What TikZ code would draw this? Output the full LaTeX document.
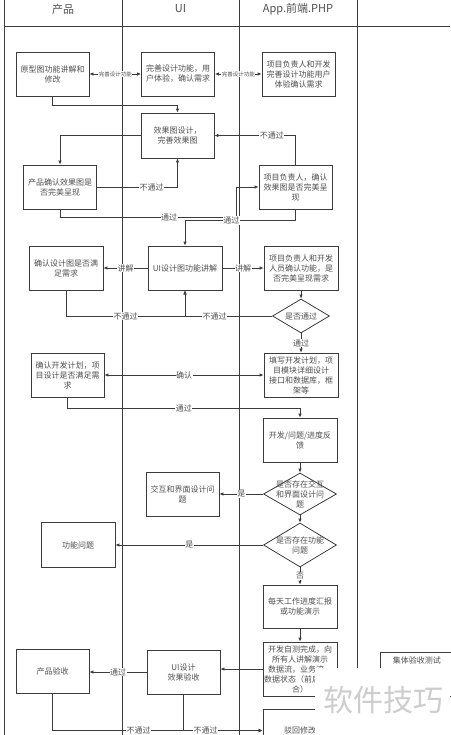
\documentclass[tikz,border=0pt]{standalone}
\usepackage{fontspec}
\usepackage{tikz}
\usetikzlibrary{arrows.meta,shapes.geometric}
\newfontfamily\cjk{Noto Sans CJK SC}
\definecolor{linegray}{HTML}{3C3C3C}
\definecolor{textgray}{HTML}{505050}
\definecolor{markgray}{HTML}{CDCDCD}

\begin{document}
\begin{tikzpicture}[x=1pt,y=-1pt,>={Latex[length=4pt,width=3.5pt]},
  lane/.style={linegray,line width=0.8pt},
  box/.style={draw=linegray,line width=0.8pt,fill=white,minimum width=73pt,minimum height=44pt,inner sep=1pt,align=center,text=textgray,font=\cjk\fontsize{8}{10}\selectfont},
  dia/.style={diamond,draw=linegray,line width=0.8pt,fill=white,inner sep=0pt},
  dtext/.style={align=center,text=textgray,font=\cjk\fontsize{8}{10}\selectfont},
  conn/.style={linegray,line width=0.8pt},
  lbl/.style={fill=white,inner sep=0.5pt,text=textgray,font=\cjk\fontsize{8}{9}\selectfont},
  tinylbl/.style={fill=white,inner sep=0.3pt,text=textgray,font=\cjk\fontsize{5.5}{6}\selectfont},
  head/.style={text=textgray,font=\cjk\fontsize{11}{13}\selectfont}]
\useasboundingbox (0,0) rectangle (450,735);
\fill[white] (0,0) rectangle (450,735);
\draw[lane] (4,0) -- (4,735);
\draw[lane] (122,0) -- (122,735);
\draw[lane] (239,0) -- (239,735);
\draw[lane] (357,0) -- (357,735);
\draw[lane] (4,26) -- (450,26);
\node[head] (hcp) at (63,9) {产品};
\node[head] (hui) at (180.5,9) {UI};
\node[head] (happ) at (298,9) {App.前端.PHP};

\node[box] (yuanxing) at (52.5,74) {原型图功能讲解和\\修改};
\node[box] (wanshan) at (178,74) {完善设计功能，用\\户体验，确认需求};
\node[box] (xmqueren) at (298.5,74) {项目负责人和开发\\完善设计功能用户\\体验确认需求};
\node[box,minimum height=45pt] (xiaoguo) at (177.5,135.5) {效果图设计，\\完善效果图};
\node[box] (cpqueren) at (60,187) {产品确认效果图是\\否完美呈现};
\node[box] (xmxiaoguo) at (295.5,187) {项目负责人，确认\\效果图是否完美呈\\现};
\node[box,minimum width=74pt] (uijiangjie) at (185,268) {UI设计图功能讲解};
\node[box,minimum width=74pt] (sjqueren) at (66,268) {确认设计图是否满\\足需求};
\node[box,minimum width=74pt] (kfqueren) at (301,268) {项目负责人和开发\\人员确认功能，是\\否完美呈现需求};
\node[dia,minimum width=57pt,minimum height=34pt,label={[dtext]center:是否通过}] (tongguo) at (301,316) {};
\node[box,minimum width=74pt] (jihua) at (301,375) {填写开发计划，项\\目模块详细设计\\接口和数据库，框\\架等};
\node[box] (jhqueren) at (67.5,375) {确认开发计划，项\\目设计是否满足需\\求};
\node[box,minimum width=74pt] (fankui) at (300,440) {开发/问题/进度反\\馈};
\node[dia,minimum width=73pt,minimum height=42pt,label={[dtext]center:{是否存在交互\\和界面设计问\\题}}] (jiaohu) at (300,494) {};
\node[box] (jmwenti) at (182.5,494) {交互和界面设计问\\题};
\node[dia,minimum width=73pt,minimum height=44pt,label={[dtext]center:{是否存在功能\\问题}}] (gongneng) at (300,545) {};
\node[box,minimum width=74pt,minimum height=45pt] (gnwenti) at (78,545) {功能问题};
\node[box,minimum width=74pt,minimum height=43pt] (huibao) at (300,606.5) {每天工作进度汇报\\或功能演示};
\node[box,minimum width=74pt,minimum height=54pt] (zice) at (300,669) {开发自测完成，向\\所有人讲解演示\\数据流，业务流，\\数据状态（前后端配\\合）};
\node[box] (uiyanshou) at (183.5,672) {UI设计\\效果验收};
\node[box] (cpyanshou) at (52.5,671) {产品验收};
\node[box,minimum width=74pt,minimum height=43pt] (bohui) at (300,730.5) {驳回修改};
\node[box,anchor=north west,label={[dtext,anchor=north,yshift=-1pt]north:集体验收测试}] (jiti) at (380,652) {};

\draw[conn,<->] (yuanxing) -- node[tinylbl]{完善设计功能} (wanshan);
\draw[conn,<->] (wanshan) -- node[tinylbl]{完善设计功能} (xmqueren);
\draw[conn,->] (yuanxing.south) -- ++(0,9) -| (xiaoguo.north);
\draw[conn,->] (xiaoguo.west) -| (cpqueren.north);
\draw[conn,->] (cpqueren.east) -| node[lbl,pos=0.34]{不通过} (xiaoguo.south);
\draw[conn,->] (xmxiaoguo.north) |- node[lbl,pos=0.645]{不通过} (xiaoguo.east);
\coordinate (tg1) at (236,217);
\draw[conn,->] (cpqueren.south) |- node[lbl,pos=0.81]{通过} (tg1) |- (xmxiaoguo.west);
\draw[conn,->] (xmxiaoguo.south) -- ++(0,11) -| node[lbl,pos=0.29]{通过} (uijiangjie.north);
\draw[conn,->] (uijiangjie.west) -- node[lbl]{讲解} (sjqueren.east);
\draw[conn,->] (uijiangjie.east) -- node[lbl]{讲解} (kfqueren.west);
\coordinate (bt1) at (185,316);
\draw[conn,->] (sjqueren.south) |- node[lbl,pos=0.75]{不通过} (bt1) -- (uijiangjie.south);
\draw[conn,->] (tongguo.west) -| node[lbl,pos=0.33]{不通过} (uijiangjie.south);
\draw[conn,->] (kfqueren.south) -- (tongguo.north);
\draw[conn,->] (tongguo.south) -- node[lbl]{通过} (jihua.north);
\draw[conn,<->] (jhqueren.east) -- node[lbl]{确认} (jihua.west);
\draw[conn,->] (jhqueren.south) -- ++(0,11) -| node[lbl,pos=0.25]{通过} (fankui.north);
\draw[conn,->] (fankui.south) -- (jiaohu.north);
\draw[conn,->] (jiaohu.west) -- node[lbl]{是} (jmwenti.east);
\draw[conn,->] (jiaohu.south) -- (gongneng.north);
\draw[conn,->] (gongneng.west) -- node[lbl]{是} (gnwenti.east);
\draw[conn,->] (gongneng.south) -- node[lbl]{否} (huibao.north);
\draw[conn,->] (huibao.south) -- (zice.north);
\draw[conn,->] (zice.west) -- (uiyanshou.east |- zice.west);
\draw[conn,->] (uiyanshou.west) -- node[lbl]{通过} (cpyanshou.east |- uiyanshou.west);
\draw[conn,->] (cpyanshou.south) |- node[lbl,pos=0.705]{不通过} (bohui.west);
\draw[conn,->] (uiyanshou.south) |- node[lbl,pos=0.64]{不通过} (bohui.west);

\fill[white] (315,668) rectangle (450,735);
\node[text=markgray,font=\cjk\fontsize{30}{30}\selectfont] (mark) at (383,700) {软件技巧};
\end{tikzpicture}
\end{document}
